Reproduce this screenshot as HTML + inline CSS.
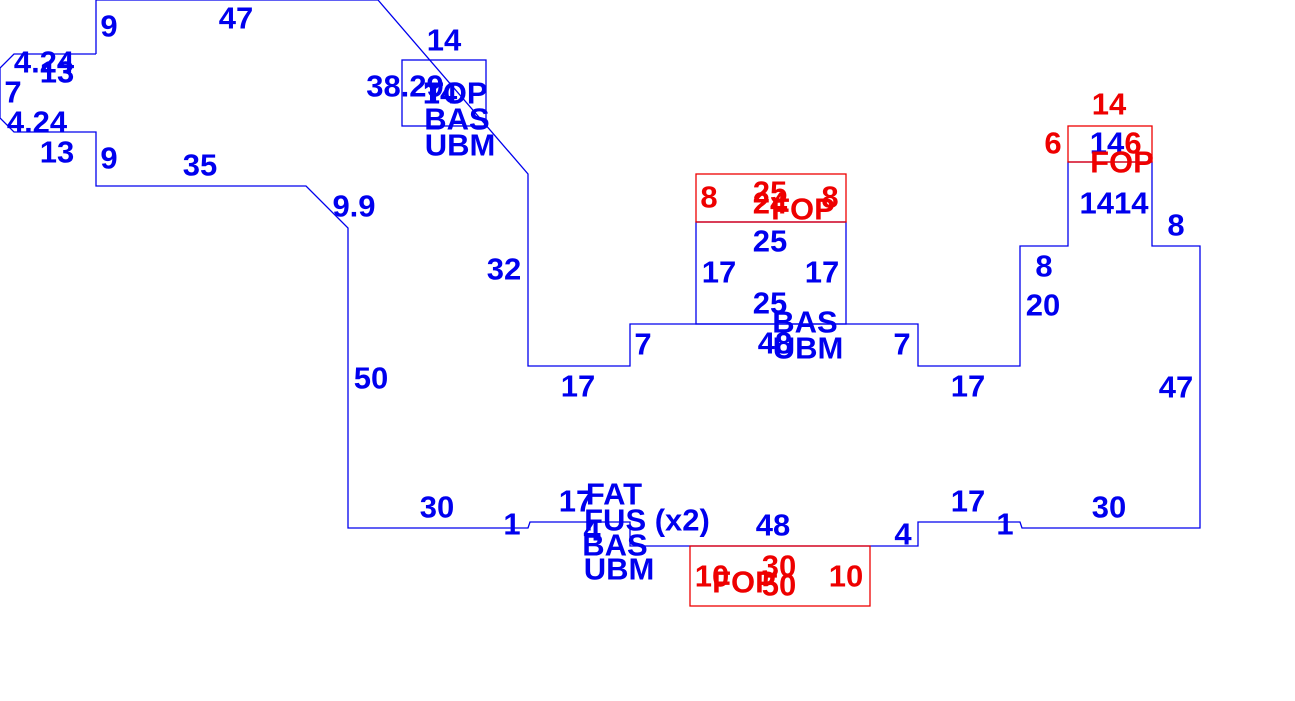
<!DOCTYPE html>
<html><head><meta charset="utf-8"><style>
html,body{margin:0;padding:0;background:#fff;}
svg{display:block;}
text{font-family:"Liberation Sans",sans-serif;font-weight:bold;font-size:31px;text-anchor:middle;dominant-baseline:central;}
.b{fill:#0000ee;} .r{fill:#ee0000;}
</style></head><body>
<svg width="1295" height="701" viewBox="0 0 1295 701" xmlns="http://www.w3.org/2000/svg">
<g fill="none" stroke="#0000ee" stroke-width="1.3">
<polyline points="96,54 96,0 378,0 528,174 528,366 630,366 630,324 918,324 918,366 1020,366 1020,246 1068,246 1068,162 1152,162 1152,246 1200,246 1200,528 1022,528 1020,522 918,522 918,546 630,546 630,522 530,522 528,528 348,528 348,228 306,186 96,186 96,132 14,132 0,118 0,68 14,54 96,54"/>
<rect x="402" y="60" width="84" height="66"/>
<rect x="696" y="222" width="150" height="102"/>
</g>
<g fill="none" stroke="#ee0000" stroke-width="1.3">
<rect x="696" y="174" width="150" height="48"/>
<rect x="1068" y="126" width="84" height="36"/>
<rect x="690" y="546" width="180" height="60"/>
</g>
<g class="b">
<text x="109" y="26">9</text>
<text x="236" y="18">47</text>
<text x="444" y="40">14</text>
<text x="44" y="62">4.24</text>
<text x="57" y="72">13</text>
<text x="13" y="92">7</text>
<text x="37" y="122">4.24</text>
<text x="57" y="152">13</text>
<text x="109" y="158">9</text>
<text x="200" y="165">35</text>
<text x="405" y="86">38.29</text>
<text x="440" y="93">14</text>
<text x="456" y="93">TOP</text>
<text x="457" y="119">BAS</text>
<text x="460" y="145">UBM</text>
<text x="354" y="206">9.9</text>
<text x="504" y="269">32</text>
<text x="371" y="378">50</text>
<text x="770" y="241">25</text>
<text x="719" y="272">17</text>
<text x="822" y="272">17</text>
<text x="770" y="303">25</text>
<text x="805" y="322">BAS</text>
<text x="775" y="343">48</text>
<text x="808" y="348">UBM</text>
<text x="643" y="344">7</text>
<text x="902" y="344">7</text>
<text x="578" y="386">17</text>
<text x="968" y="386">17</text>
<text x="1044" y="266">8</text>
<text x="1043" y="305">20</text>
<text x="1114" y="203">1414</text>
<text x="1176" y="225">8</text>
<text x="1176" y="387">47</text>
<text x="1107" y="143">14</text>
<text x="437" y="507">30</text>
<text x="512" y="524">1</text>
<text x="576" y="501">17</text>
<text x="614" y="494">FAT</text>
<text x="647" y="520">FUS (x2)</text>
<text x="592" y="530">4</text>
<text x="615" y="545">BAS</text>
<text x="619" y="569">UBM</text>
<text x="773" y="525">48</text>
<text x="903" y="534">4</text>
<text x="968" y="501">17</text>
<text x="1005" y="524">1</text>
<text x="1109" y="507">30</text>
</g>
<g class="r">
<text x="1109" y="104">14</text>
<text x="1053" y="143">6</text>
<text x="1133" y="143">6</text>
<text x="1122" y="162">FOP</text>
<text x="709" y="197">8</text>
<text x="770" y="192">25</text>
<text x="770" y="203">24</text>
<text x="830" y="197">8</text>
<text x="803" y="209">FOP</text>
<text x="712" y="576">10</text>
<text x="779" y="566">30</text>
<text x="744" y="582">FOP</text>
<text x="779" y="585">50</text>
<text x="846" y="576">10</text>
</g>
</svg>
</body></html>
